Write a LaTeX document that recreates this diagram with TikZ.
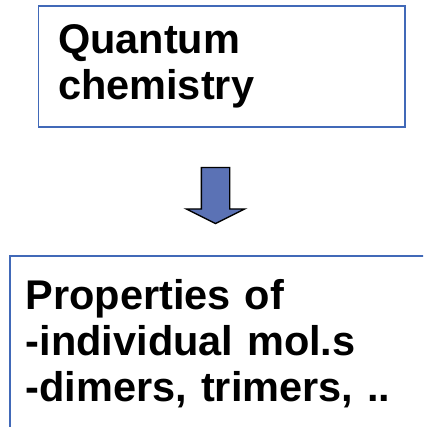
\documentclass[tikz,border=0pt]{standalone}
\usepackage{fontspec}
\setmainfont{Liberation Sans}
\usetikzlibrary{shapes.arrows}
\definecolor{qcframe}{HTML}{4169B8}
\definecolor{qcarrow}{HTML}{5B72B5}
\tikzset{
  panel/.style={draw=qcframe, line width=1.6pt, fill=white, align=left,
    inner ysep=0pt, anchor=north west,
    font=\fontsize{41.5}{46}\selectfont\bfseries},
  downarrow/.style={single arrow, draw=black, line width=1.4pt, fill=qcarrow,
    shape border rotate=270, inner sep=13.5pt, minimum height=56pt,
    minimum width=57pt, single arrow head extend=15pt,
    single arrow tip angle=127},
}

\begin{document}
\begin{tikzpicture}[x=1pt, y=-1pt]
\clip (0,0) rectangle (423,427);
\fill[white] (0,0) rectangle (423,427);
% ---------- top box: method ----------
\node[panel, inner xsep=19.5pt, minimum width=366.5pt, minimum height=121pt,
  text width=327pt] (qchem) at (37.5,5) {Quantum\\chemistry};
% ---------- arrow ----------
\node[downarrow] (step) at (215.5,192) {};
% ---------- bottom box: properties (runs off the page) ----------
\node[panel, inner xsep=16pt, minimum width=431pt, minimum height=176pt,
  text width=399pt] (props) at (9,255)
  {Properties of\\-individual mol.s\\-dimers, trimers, ..};
\end{tikzpicture}
\end{document}
